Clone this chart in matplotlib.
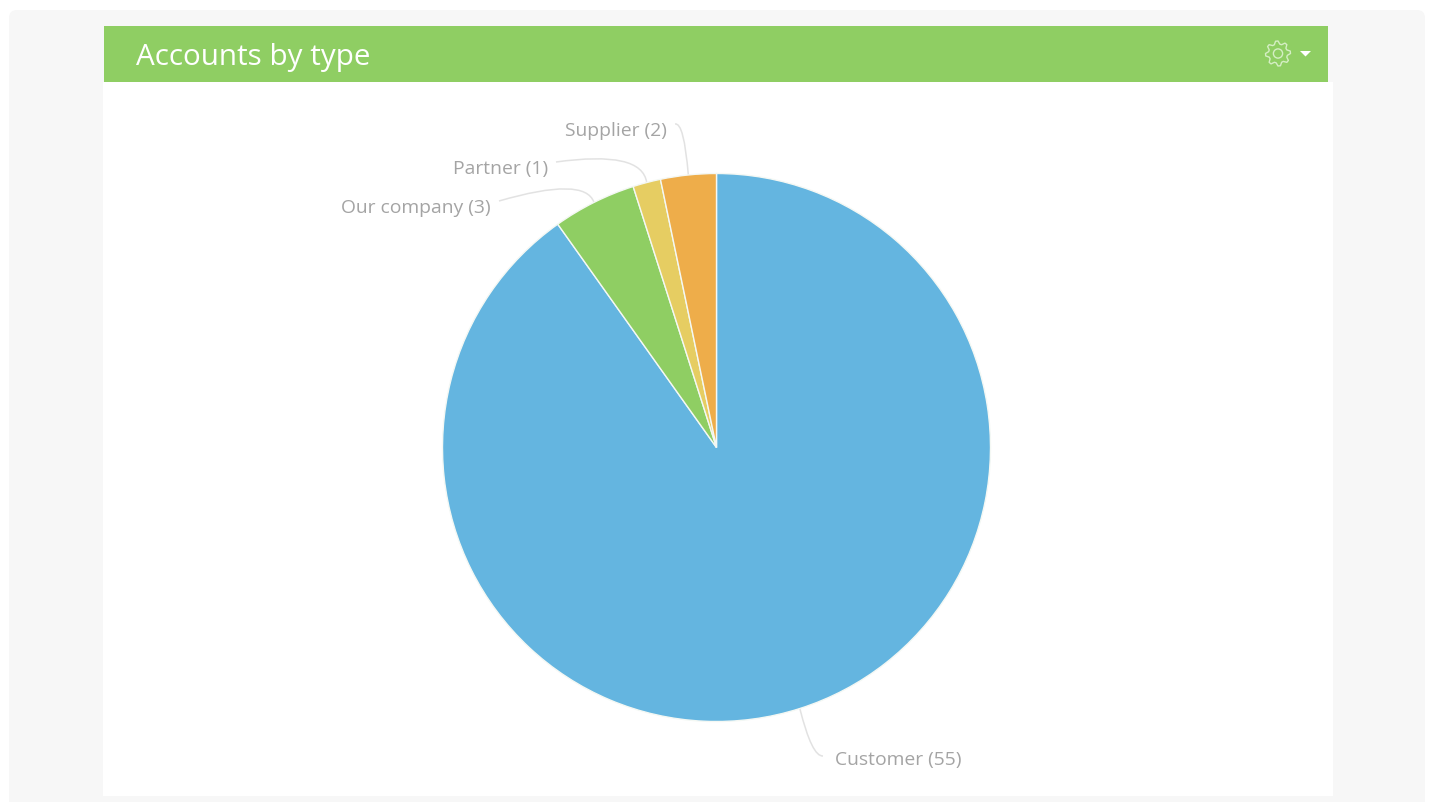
import numpy as np
import matplotlib
matplotlib.use("Agg")
import matplotlib.pyplot as plt
from matplotlib.patches import Rectangle, FancyBboxPatch, PathPatch, Polygon, Circle
from matplotlib.path import Path

# Dashboard widget content
title = "Accounts by type"
categories = ["Customer", "Our company", "Partner", "Supplier"]
counts = [55, 3, 1, 2]
colors = ["#64B5E0", "#8FCE63", "#E6CD62", "#EEAD4A"]

# Label anchors and the control point of each curved leader, in pixels
label_anchor = {"Customer": (835, 758, "left"), "Our company": (491, 206, "right"),
                "Partner": (548, 167, "right"), "Supplier": (667, 129, "right")}
leader_knee = {"Customer": (812, 757), "Our company": (585, 176),
               "Partner": (642, 150), "Supplier": (684, 122)}
leader_tail = {"Customer": (823, 756), "Our company": (499, 201),
               "Partner": (556, 162), "Supplier": (675, 124)}

W, H = 1429, 802
CX, CY, R = 716.5, 447.5, 274.0

plt.rcParams["font.family"] = ["Open Sans", "DejaVu Sans"]
fig = plt.figure(figsize=(W / 100, H / 100), dpi=100, facecolor="white")

# Page furniture lives on a pixel-based background axes
bg = fig.add_axes([0, 0, 1, 1], zorder=0)
bg.set_xlim(0, W)
bg.set_ylim(H, 0)
bg.axis("off")
bg.add_patch(FancyBboxPatch((9, 10), 1416, 810, boxstyle="round,pad=0,rounding_size=8",
                            fc="#F7F7F7", ec="none"))
bg.add_patch(Rectangle((103, 82), 1230, 714, fc="white", ec="none"))
bg.add_patch(Rectangle((104.5, 26), 1224, 56, fc="#8FCE63", ec="none"))
bg.text(136, 53.5, title, color="white", fontsize=21.3, va="center_baseline", ha="left")

# Settings gear in the header
gx, gy = 1278, 53.5
teeth = 8
angles = np.linspace(0, 2 * np.pi, teeth * 4, endpoint=False) - np.pi / teeth * 0.5
radii = np.tile([12.5, 12.5, 9.5, 9.5], teeth)
bg.add_patch(Polygon(np.c_[gx + radii * np.cos(angles), gy + radii * np.sin(angles)],
                     closed=True, fc="none", ec="#D5EEC4", lw=1.0, joinstyle="round"))
bg.add_patch(Circle((gx, gy), 4.6, fc="none", ec="#D5EEC4", lw=1.0))
bg.add_patch(Polygon([(1300, 51), (1311, 51), (1305.5, 56.5)], closed=True, fc="white", ec="none"))

# The pie itself, in a square axes spanning the circle
ax = fig.add_axes([(CX - R) / W, 1 - (CY + R) / H, 2 * R / W, 2 * R / H], zorder=1)
wedges, _ = ax.pie(counts, colors=colors, startangle=90, counterclock=False, radius=1,
                   wedgeprops=dict(edgecolor="#F4F8F4", linewidth=1.0))
ax.set_xlim(-1, 1)
ax.set_ylim(-1, 1)
ax.set_aspect("equal")
ax.patch.set_alpha(0)

# Leaders start at each wedge's mid-angle on the rim and curve away to the label
for name, value, wedge in zip(categories, counts, wedges):
    mid = np.deg2rad((wedge.theta1 + wedge.theta2) / 2)
    start = (CX + R * np.cos(mid), CY - R * np.sin(mid))
    verts = [start, leader_knee[name], leader_tail[name]]
    bg.add_patch(PathPatch(Path(verts, [Path.MOVETO, Path.CURVE3, Path.CURVE3]),
                           fc="none", ec="#E2E2E2", lw=1.1, zorder=2))
    x, y, ha = label_anchor[name]
    bg.text(x, y, f"{name} ({value})", color="#A4A4A4", fontsize=13.9, ha=ha, va="center_baseline")

fig.savefig("out.png", dpi=100, facecolor="white")
